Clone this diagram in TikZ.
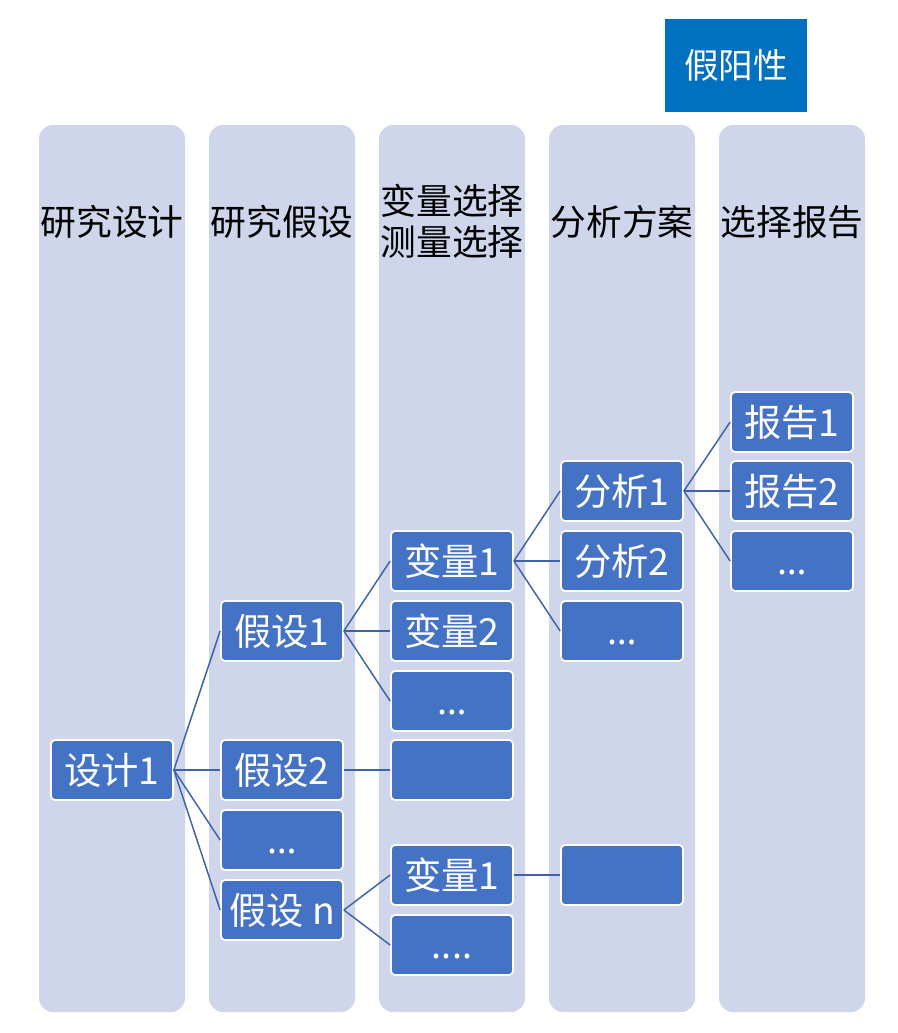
\documentclass[tikz,border=0pt]{standalone}
\usepackage{fontspec}
\setmainfont{Noto Sans CJK SC}
\newfontfamily\latinfont{Noto Sans}
\definecolor{colfill}{HTML}{CFD5EA}
\definecolor{boxfill}{HTML}{4472C4}
\definecolor{topfill}{HTML}{0070C0}
\definecolor{linkcol}{HTML}{3F62A8}
\newcommand{\dotsmark}{\vphantom{设}{\latinfont …}}

\begin{document}
\begin{tikzpicture}[x=0.75pt, y=-0.75pt,
  column/.style={fill=colfill, rounded corners=10.5pt, minimum width=109.5pt, minimum height=665.25pt, inner sep=0pt},
  head/.style={font=\fontsize{26.8}{31}\selectfont, align=center, inner sep=0pt},
  box/.style={draw=white, line width=1.3pt, fill=boxfill, rounded corners=3pt, minimum width=91.5pt, minimum height=45pt, inner sep=0pt, text=white, font=\fontsize{28}{32}\selectfont},
  link/.style={draw=linkcol, line width=1.1pt}]

\useasboundingbox (0,0) rectangle (898,1033);

% columns
\node[column] (c1) at (112,568.5) {};
\node[column] (c2) at (282,568.5) {};
\node[column] (c3) at (452,568.5) {};
\node[column] (c4) at (622,568.5) {};
\node[column] (c5) at (792,568.5) {};

\node[head] (h1) at (112,222) {研究设计};
\node[head] (h2) at (282,222) {研究假设};
\node[head] (h3) at (452,221) {变量选择\\测量选择};
\node[head] (h4) at (622,222) {分析方案};
\node[head] (h5) at (792,222) {选择报告};

\node[fill=topfill, text=white, minimum width=106.5pt, minimum height=69.75pt, inner sep=0pt, font=\fontsize{26}{30}\selectfont] (fp) at (736,65.5) {假阳性};

% boxes
\node[box] (d1) at (112,770) {设计1};

\node[box] (a1) at (282,631) {假设1};
\node[box] (a2) at (282,770) {假设2};
\node[box] (a3) at (282,840) {\dotsmark};
\node[box] (an) at (282,910) {假设 n};

\node[box] (v1) at (452,561) {变量1};
\node[box] (v2) at (452,631) {变量2};
\node[box] (v3) at (452,701) {\dotsmark};
\node[box] (v4) at (452,770) {};
\node[box] (v5) at (452,875) {变量1};
\node[box] (v6) at (452,945) {\vphantom{设}{\latinfont ....}};

\node[box] (m1) at (622,491) {分析1};
\node[box] (m2) at (622,561) {分析2};
\node[box] (m3) at (622,631) {\dotsmark};
\node[box] (m4) at (622,875) {};

\node[box] (r1) at (792,422) {报告1};
\node[box] (r2) at (792,491) {报告2};
\node[box] (r3) at (792,561) {\dotsmark};

\path[link]
	(d1.east) 	edge (a1.west)
		edge (a2.west)
		edge (a3.west)
		edge (an.west)
	(a1.east) 	edge (v1.west)
		edge (v2.west)
		edge (v3.west)
	(a2.east) 	edge (v4.west)
	(an.east) 	edge (v5.west)
		edge (v6.west)
	(v1.east) 	edge (m1.west)
		edge (m2.west)
		edge (m3.west)
	(v5.east) 	edge (m4.west)
	(m1.east) 	edge (r1.west)
		edge (r2.west)
		edge (r3.west)
	;

\end{tikzpicture}
\end{document}
